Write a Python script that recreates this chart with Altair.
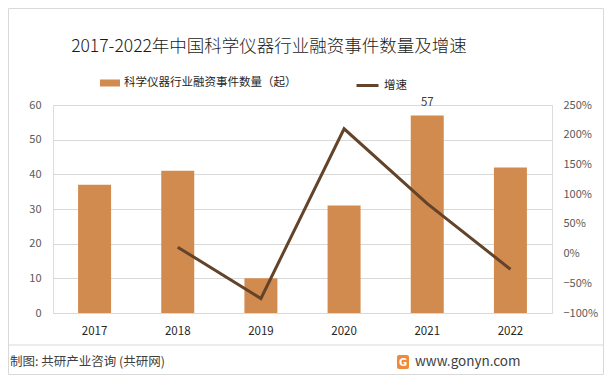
import altair as alt
import pandas as pd

years = ["2017", "2018", "2019", "2020", "2021", "2022"]
counts = [37, 41, 10, 31, 57, 42]
growth = [None, 0.108, -0.756, 2.10, 0.839, -0.263]
bar_labels = ["", "", "", "", "57", ""]

bar_name = "科学仪器行业融资事件数量（起）"
line_name = "增速"
title_text = "2017-2022年中国科学仪器行业融资事件数量及增速"
source_text = "制图: 共研产业咨询 (共研网)"
site_text = "www.gonyn.com"

BAR = "#D28B4E"
LINE = "#634329"
FONT = "Noto Sans CJK SC"

df = pd.DataFrame({
    "year": years,
    "count": counts,
    "growth": growth,
    "label": bar_labels,
    "s1": [bar_name] * len(years),
    "s2": [line_name] * len(years),
})

x_enc = alt.X("year:N", sort=years, title=None,
              scale=alt.Scale(paddingInner=0, paddingOuter=0),
              axis=alt.Axis(labelAngle=0, domain=False, ticks=False, labelPadding=12,
                            labelFontSize=11.5, labelColor="#262626", labelFont=FONT))

left_axis = alt.Axis(values=[0, 10, 20, 30, 40, 50, 60], tickCount=7, domain=False, ticks=False,
                     labelOverlap=False,
                     labelPadding=12, labelFontSize=11, labelColor="#595959",
                     gridColor="#D9D9D9", labelFont=FONT)
left_scale = alt.Scale(domain=[0, 60], nice=False)

base = alt.Chart(df)

bars = base.mark_bar(size=33).encode(
    x=x_enc,
    y=alt.Y("count:Q", title=None, scale=left_scale, axis=left_axis),
    color=alt.Color("s1:N", title=None,
                    scale=alt.Scale(range=[BAR]),
                    legend=alt.Legend(orient="none", legendX=47, legendY=-32,
                                      symbolType="M-1,-0.35H1V0.35H-1Z", symbolSize=400,
                                      symbolStrokeWidth=0, labelFontSize=11.5, labelLimit=0,
                                      labelColor="#262626", labelFont=FONT, padding=0)),
)

labels = base.mark_text(dy=-12, fontSize=11.5, color="#404040", font=FONT).encode(
    x=alt.X("year:N", sort=years),
    y=alt.Y("count:Q", title=None, scale=left_scale, axis=left_axis),
    text="label:N",
)

left_layer = alt.layer(bars, labels)

line = base.mark_line(strokeWidth=3).encode(
    x=alt.X("year:N", sort=years),
    y=alt.Y("growth:Q", title=None,
            scale=alt.Scale(domain=[-1, 2.5], nice=False),
            axis=alt.Axis(orient="right", values=[-1, -0.5, 0, 0.5, 1, 1.5, 2, 2.5],
                          format=".0%", domain=False, ticks=False, grid=False,
                          labelOverlap=False,
                          labelPadding=11, labelFontSize=11, labelColor="#595959",
                          labelFont=FONT)),
    stroke=alt.Stroke("s2:N", title=None,
                      scale=alt.Scale(range=[LINE]),
                      legend=alt.Legend(orient="none", legendX=302, legendY=-32,
                                        symbolType="stroke", symbolSize=484,
                                        symbolStrokeWidth=3, labelFontSize=11.5, labelLimit=0,
                                        labelColor="#262626", labelFont=FONT, padding=0)),
)

deco = alt.Chart(pd.DataFrame({"t": [title_text]}))
title = deco.mark_text(fontSize=17.5, font=FONT, fontWeight=300, color="#1a1a1a",
                       baseline="middle").encode(
    text="t:N", x=alt.value(216), y=alt.value(-58))

foot = alt.Chart(pd.DataFrame({"t": [source_text]})).mark_text(
    fontSize=12.5, font=FONT, color="#404040", align="left", baseline="middle").encode(
    text="t:N", x=alt.value(-43), y=alt.value(257))

site = alt.Chart(pd.DataFrame({"t": [site_text]})).mark_text(
    fontSize=13.5, font=FONT, color="#404040", align="left", baseline="middle").encode(
    text="t:N", x=alt.value(362), y=alt.value(257))

logo = alt.Chart(pd.DataFrame({"t": ["G"]})).mark_rect(color="#F2883A", cornerRadius=2).encode(
    x=alt.value(344), x2=alt.value(356), y=alt.value(250), y2=alt.value(264))
logo_g = alt.Chart(pd.DataFrame({"t": ["G"]})).mark_text(
    fontSize=10, fontWeight="bold", color="white", font="DejaVu Sans", baseline="middle").encode(
    text="t:N", x=alt.value(350), y=alt.value(257.5))

sep = alt.Chart(pd.DataFrame({"t": [0]})).mark_rule(color="#D9D9D9", strokeWidth=1).encode(
    x=alt.value(-45), x2=alt.value(551), y=alt.value(240))

border = alt.Chart(pd.DataFrame({"t": [0]})).mark_rect(
    fill=None, stroke="#D9D9D9", strokeWidth=1).encode(
    x=alt.value(-44.5), x2=alt.value(550.5), y=alt.value(-96.5), y2=alt.value(269.5))

chart = alt.layer(left_layer, line, title, foot, site, logo, logo_g, sep, border).resolve_scale(
    y="independent", color="independent"
).properties(
    width=499, height=208,
    autosize=alt.AutoSizeParams(type="none"),
    padding={"left": 45, "top": 97, "right": 52, "bottom": 62},
).configure_view(stroke=None).configure(background="white")

chart.save("out.html", embed_options={"renderer": "svg", "actions": False})
